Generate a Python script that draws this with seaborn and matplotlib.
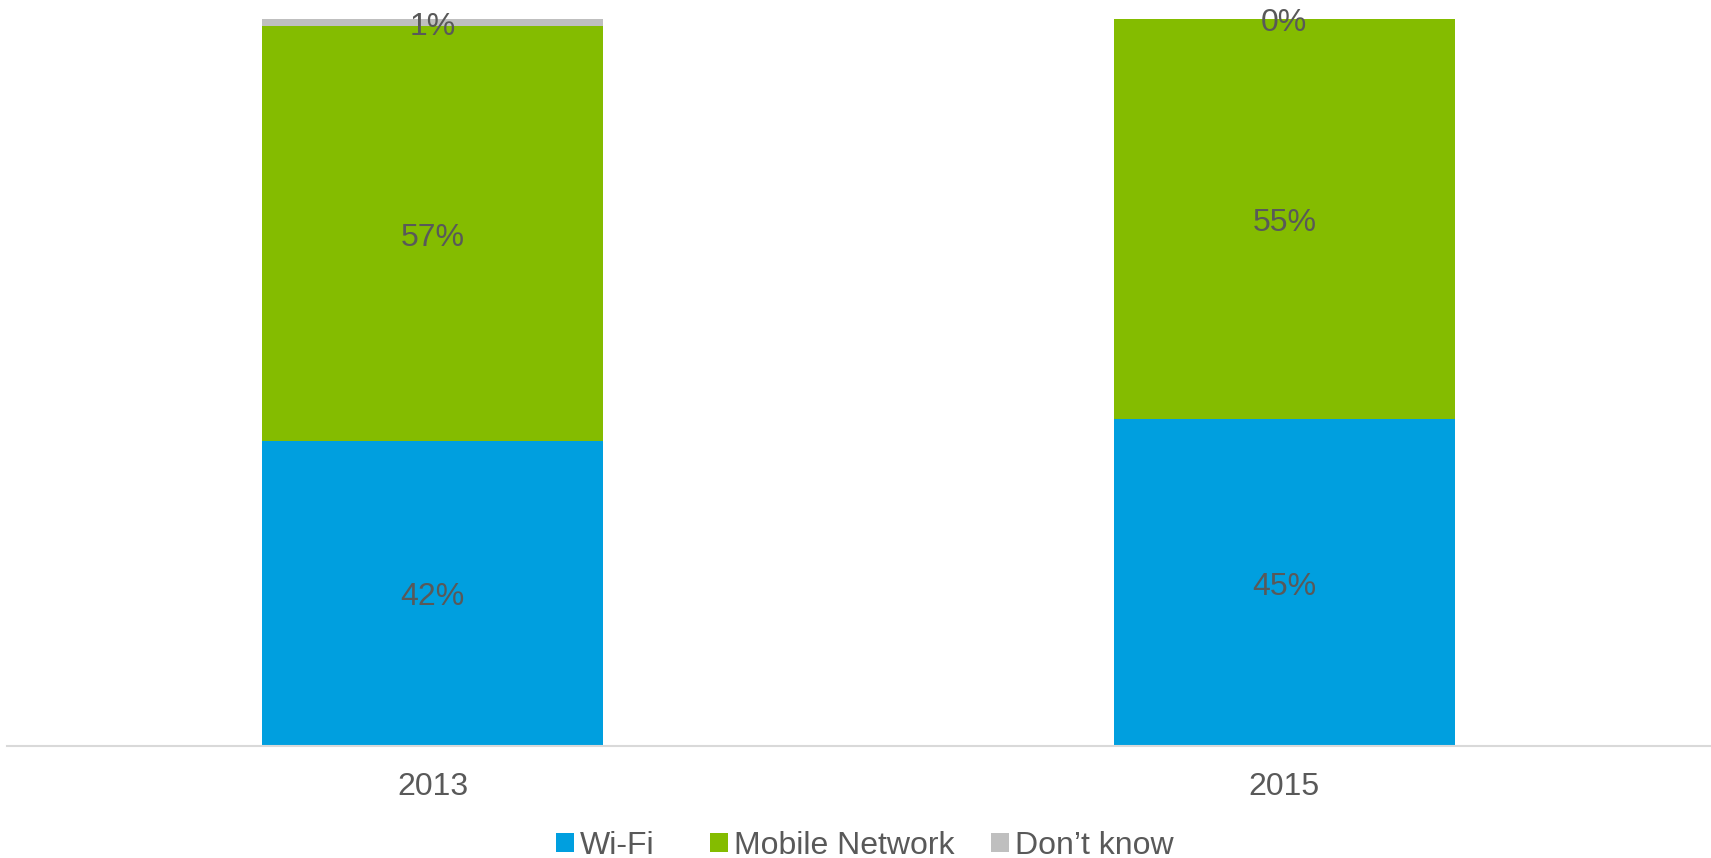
import numpy as np
import pandas as pd
import matplotlib
matplotlib.use("Agg")
import matplotlib.pyplot as plt
import matplotlib.transforms as mtransforms
from matplotlib.patches import Patch
import seaborn as sns

years = ["2013", "2015"]
series = ["Wi-Fi", "Mobile Network", "Don\u2019t know"]
wifi = [42, 45]
mobile = [57, 55]
dont_know = [1, 0]
colors = ["#009FDF", "#84BC00", "#BFBFBF"]
text_color = "#595959"
FS = 23

sns.set_theme(style="white")
plt.rcParams["font.family"] = ["Liberation Sans", "DejaVu Sans"]

values = np.array([wifi, mobile, dont_know], dtype=float)
cumulative = np.cumsum(values, axis=0)

W, H = 1711, 858
fig = plt.figure(figsize=(W / 100, H / 100), dpi=100)
ax = fig.add_axes([7 / W, (H - 746) / H, (1710 - 7) / W, (746 - 19) / H])

# Stack by overdrawing cumulative totals, topmost segment first
for i in reversed(range(len(series))):
    df = pd.DataFrame({"year": years, "value": cumulative[i]})
    sns.barplot(data=df, x="year", y="value", color=colors[i], width=0.4,
                saturation=1, linewidth=0, ax=ax, errorbar=None)

# Segment value labels, centred in each segment
label_tf = ax.transData + mtransforms.ScaledTranslation(0, -3 / 72, fig.dpi_scale_trans)
for i in range(len(series)):
    bottoms = cumulative[i] - values[i]
    for j in range(len(years)):
        ax.text(j, bottoms[j] + values[i][j] / 2, f"{int(values[i][j])}%",
                ha="center", va="center", fontsize=FS, color=text_color,
                clip_on=False, transform=label_tf)

ax.set_xlim(-0.5, 1.5)
ax.set_ylim(0, 100)
ax.set_xlabel("")
ax.set_ylabel("")
ax.set_yticks([])
for s in ["top", "left", "right"]:
    ax.spines[s].set_visible(False)
ax.spines["bottom"].set_color("#D9D9D9")
ax.spines["bottom"].set_linewidth(1.5)
ax.tick_params(axis="x", length=0, pad=18.5, labelsize=FS, labelcolor=text_color)

# Legend entries laid out in a single row below the axis
legend_x = [556, 710, 991]
legend_y = (H - 845.5) / H
for c, s, x in zip(colors, series, legend_x):
    leg = fig.legend(handles=[Patch(facecolor=c, edgecolor="none", label=s)],
                     loc="center left", bbox_to_anchor=(x / W, legend_y),
                     frameon=False, fontsize=FS, handlelength=0.55,
                     handleheight=0.55, handletextpad=0.2,
                     borderaxespad=0, borderpad=0)
    for t in leg.get_texts():
        t.set_color(text_color)

fig.savefig("out.png", dpi=100)
